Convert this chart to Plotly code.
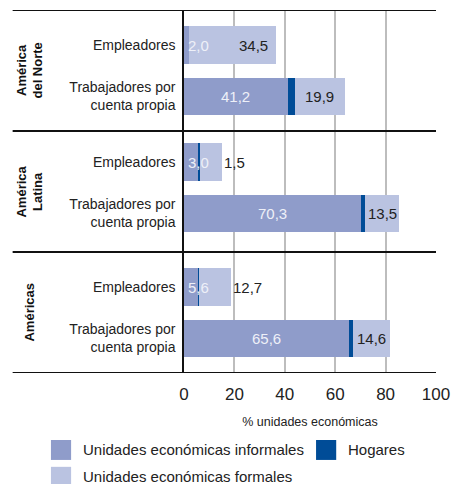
import plotly.graph_objects as go

# ---- data ----
groups = ["América<br>del Norte", "América<br>Latina", "Américas"]
categories = ["Empleadores", "Trabajadores por<br>cuenta propia"]
informal = [2.0, 41.2, 5.9, 70.3, 5.6, 65.6]
hogares = [0.0, 2.8, 0.4, 1.6, 0.4, 1.6]
formal = [34.5, 19.9, 8.9, 13.5, 12.7, 14.6]
informal_labels = ["2,0", "41,2", "3,0", "70,3", "5,6", "65,6"]
formal_labels = ["34,5", "19,9", "1,5", "13,5", "12,7", "14,6"]
series_names = ["Unidades económicas informales", "Hogares", "Unidades económicas formales"]
x_ticks = [0, 20, 40, 60, 80, 100]
x_title = "% unidades económicas"

# ---- style ----
FONT = "Liberation Sans, Arial, sans-serif"
C_INF = "#8f9cca"
C_HOG = "#004c97"
C_FOR = "#bac3e1"
TXT = "#222222"

group_span = 3.0
row_offsets = [0.87, 2.14]
group_shift = [0.0, -0.1, 0.0]
ypos = []
ylabels = []
for g in range(len(groups)):
    for r, c in enumerate(categories):
        ypos.append(g * group_span + row_offsets[r] + group_shift[g])
        ylabels.append(c)

bw = 0.93
fig = go.Figure()
for vals, col, name in zip([informal, hogares, formal], [C_INF, C_HOG, C_FOR], series_names):
    fig.add_trace(go.Bar(y=ypos, x=vals, orientation="h", width=bw, marker=dict(color=col, line=dict(width=0)),
                         name=name, showlegend=False, hoverinfo="skip"))

annotations = []
shapes = []
lab_font = dict(family=FONT, size=15)
for i, y in enumerate(ypos):
    inf, hog, frm = informal[i], hogares[i], formal[i]
    # informal label
    if inf >= 10:
        annotations.append(dict(x=inf / 2, y=y, text=informal_labels[i], showarrow=False, xanchor="center",
                                font=dict(lab_font, color="#eef0f8")))
    else:
        annotations.append(dict(x=0, y=y, text=informal_labels[i], showarrow=False, xanchor="left", xshift=2,
                                font=dict(lab_font, color="#eef0f8")))
    end = inf + hog + frm
    if i % 2 == 1:
        annotations.append(dict(x=inf + hog + frm / 2, y=y, text=formal_labels[i], showarrow=False,
                                xanchor="center", font=dict(lab_font, color=TXT)))
    elif frm >= 20:
        annotations.append(dict(x=end, y=y, text=formal_labels[i], showarrow=False, xanchor="right", xshift=-6,
                                font=dict(lab_font, color=TXT)))
    else:
        annotations.append(dict(x=end, y=y, text=formal_labels[i], showarrow=False, xanchor="left", xshift=0,
                                font=dict(lab_font, color=TXT)))

# group labels and separators
for g, name in enumerate(groups):
    annotations.append(dict(xref="paper", x=-0.615, y=g * group_span + group_span / 2, text="<b>" + name + "</b>",
                            textangle=-90, showarrow=False, font=dict(family=FONT, size=13, color="#111"),
                            xanchor="center", yanchor="middle"))
for g in range(len(groups) + 1):
    shapes.append(dict(type="line", xref="paper", x0=-0.68, x1=1.0, y0=g * group_span, y1=g * group_span,
                       line=dict(color="#111", width=2)))

# manual legend
leg = [(C_INF, series_names[0], -0.528, -0.212), (C_HOG, series_names[1], 0.524, -0.212),
       (C_FOR, series_names[2], -0.528, -0.286)]
for col, name, lx, ly in leg:
    shapes.append(dict(type="rect", xref="paper", yref="paper", x0=lx, x1=lx + 0.08, y0=ly - 0.0275, y1=ly + 0.0275,
                       fillcolor=col, line=dict(width=0)))
    annotations.append(dict(xref="paper", yref="paper", x=lx + 0.12, y=ly, text=name, showarrow=False,
                            xanchor="left", yanchor="middle", font=dict(family=FONT, size=15, color=TXT)))

fig.update_layout(
    width=451, height=484,
    margin=dict(l=184, r=15, t=10, b=111),
    plot_bgcolor="white", paper_bgcolor="white",
    barmode="stack", bargap=0,
    font=dict(family=FONT, color=TXT),
    annotations=annotations, shapes=shapes,
    showlegend=False,
)
fig.update_xaxes(range=[0, 100], tickvals=x_ticks, ticktext=[str(t) for t in x_ticks], showgrid=True,
                 gridcolor="#bdbdbd", gridwidth=1.5, zeroline=False, showline=False, ticks="",
                 tickfont=dict(family=FONT, size=17, color=TXT), automargin=False, ticklabelstandoff=9,
                 title=dict(text=x_title, font=dict(family=FONT, size=12.5, color=TXT), standoff=14))
fig.update_yaxes(range=[group_span * len(groups), 0], tickvals=ypos, ticktext=ylabels, showgrid=False,
                 zeroline=False, showline=True, linecolor="#111", linewidth=1.5, ticks="", automargin=False,
                 tickfont=dict(family=FONT, size=14, color=TXT), ticklabelstandoff=4)

fig.write_html("out.html", config={"displayModeBar": False},
               post_script="document.body.style.margin='0';document.body.style.overflow='hidden';")
